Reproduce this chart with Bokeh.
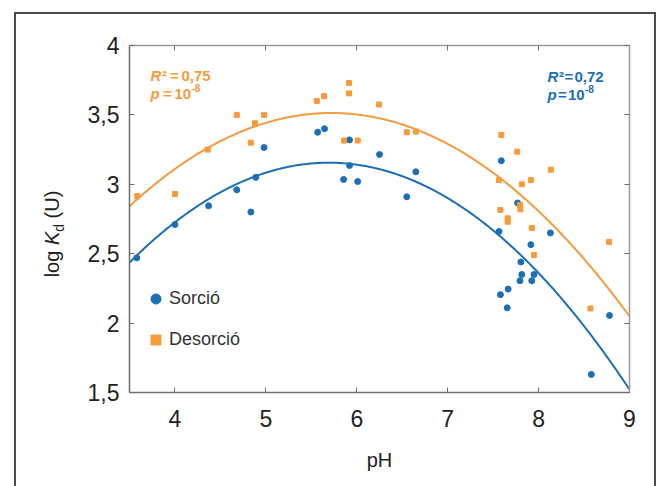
import numpy as np
from bokeh.plotting import figure
from bokeh.layouts import row
from bokeh.models import (Label, LinearAxis, FixedTicker, Legend, LegendItem,
                          Range1d, CustomJSTickFormatter, Div)
from bokeh.embed import file_html
from bokeh.resources import INLINE

# ---------------- data ----------------
ph_sorcio = [3.58, 4.00, 4.37, 4.68, 4.835, 4.89, 4.98, 5.57, 5.645, 5.92,
             6.25, 5.92, 5.855, 6.01, 6.65, 6.55, 7.59, 7.77, 7.565, 8.13,
             7.915, 7.805, 7.815, 7.95, 7.795, 7.925, 7.665, 7.58, 7.655,
             8.78, 8.58]
logkd_sorcio = [2.47, 2.71, 2.845, 2.96, 2.80, 3.05, 3.265, 3.375, 3.40, 3.32,
                3.215, 3.135, 3.035, 3.02, 3.09, 2.91, 3.17, 2.865, 2.66, 2.65,
                2.565, 2.44, 2.35, 2.35, 2.305, 2.305, 2.245, 2.205, 2.11,
                2.055, 1.63]
ph_desorcio = [3.585, 4.00, 4.36, 4.68, 4.88, 4.835, 4.98, 5.915, 5.915, 5.64,
               5.56, 6.245, 5.86, 6.01, 6.55, 6.65, 7.59, 7.765, 8.135, 7.565,
               7.815, 7.915, 7.58, 7.795, 7.80, 7.66, 7.66, 7.925, 7.95,
               8.775, 8.57]
logkd_desorcio = [2.915, 2.93, 3.25, 3.50, 3.44, 3.30, 3.50, 3.73, 3.655, 3.635,
                  3.60, 3.575, 3.315, 3.315, 3.375, 3.38, 3.355, 3.235, 3.105, 3.03,
                  3.00, 3.03, 2.815, 2.85, 2.82, 2.755, 2.73, 2.685, 2.49,
                  2.585, 2.105]

series_names = ["Sorció", "Desorció"]
x_ticks = [4, 5, 6, 7, 8, 9]
x_tick_labels = ["4", "5", "6", "7", "8", "9"]
y_ticks = [1.5, 2.0, 2.5, 3.0, 3.5, 4.0]
y_tick_labels = ["1,5", "2", "2,5", "3", "3,5", "4"]
r2_sorcio, p_sorcio = "0,72", "-8"
r2_desorcio, p_desorcio = "0,75", "-8"
x_title = "pH"
y_title_html = "log <i>K</i><sub style='font-size:14px'>d</sub> (U)"

# ---------------- style ----------------
BLUE = "#1b6fb6"
ORANGE = "#f69b3b"
FONT = "Liberation Sans"
X0, X1, Y0, Y1 = 3.5, 9.0, 1.5, 4.0
FW, FH = 500, 347
LEFT, TOP = 129, 45          # page position of the frame
DIV_W, H = 50, 472

def xd(px):
    return X0 + (px - LEFT) * (X1 - X0) / FW

def yd(py):
    return Y0 + (TOP + FH - py) * (Y1 - Y0) / FH

p = figure(frame_width=FW, frame_height=FH,
           x_range=Range1d(X0, X1), y_range=Range1d(Y0, Y1),
           output_backend="svg", toolbar_location=None,
           min_border_left=63, min_border_right=25,
           min_border_top=31, min_border_bottom=94, margin=0)
p.grid.visible = False
p.outline_line_color = "#9a9a9a"
p.outline_line_width = 1
p.background_fill_color = "white"
p.border_fill_color = "white"

p.add_layout(LinearAxis(), "above")
p.add_layout(LinearAxis(), "right")

empty = CustomJSTickFormatter(code="return ''")
for ax in p.axis:
    ax.axis_line_color = "#6e6e6e"
    ax.axis_line_width = 1.5
    ax.major_tick_in = 5
    ax.major_tick_out = 0
    ax.major_tick_line_color = "#6e6e6e"
    ax.major_tick_line_width = 1
    ax.minor_tick_line_color = None
    ax.major_label_text_font = FONT
    ax.major_label_text_font_size = "23px"
    ax.major_label_text_color = "#222222"

for ax in p.above + p.below:
    ax.ticker = FixedTicker(ticks=x_ticks)
for ax in p.left + p.right:
    ax.ticker = FixedTicker(ticks=y_ticks)
for ax in p.above + p.right:
    ax.formatter = empty
    ax.axis_line_color = "#9a9a9a"

xa = p.below[0]
xa.major_label_overrides = dict(zip(x_ticks, x_tick_labels))
xa.major_label_standoff = 17
xa.axis_label = x_title
xa.axis_label_text_font = FONT
xa.axis_label_text_font_size = "20px"
xa.axis_label_text_font_style = "normal"
xa.axis_label_text_color = "#222222"
xa.axis_label_standoff = 19

ya = p.left[0]
ya.major_label_overrides = dict(zip(y_ticks, y_tick_labels))
ya.major_label_standoff = 10

# ---------------- fitted curves (quadratic regression of the data) ----------------
xfit = np.linspace(X0, X1, 300)
c_s = np.polyfit(ph_sorcio, logkd_sorcio, 2)
c_d = np.polyfit(ph_desorcio, logkd_desorcio, 2)
p.line(xfit, np.polyval(c_d, xfit), line_color=ORANGE, line_width=2)
p.line(xfit, np.polyval(c_s, xfit), line_color=BLUE, line_width=2)

r_s = p.scatter(ph_sorcio, logkd_sorcio, marker="circle", size=6,
                fill_color=BLUE, line_color=BLUE)
r_d = p.scatter(ph_desorcio, logkd_desorcio, marker="square", size=5,
                fill_color=ORANGE, line_color=ORANGE)

legend = Legend(items=[LegendItem(label=series_names[0], renderers=[r_s]),
                       LegendItem(label=series_names[1], renderers=[r_d])],
                location=(14, 40), margin=0, padding=0, spacing=16,
                glyph_width=25, glyph_height=25, label_height=25,
                label_standoff=1, border_line_color=None,
                background_fill_alpha=0,
                label_text_font=FONT, label_text_font_size="18px",
                label_text_color="#333333", label_text_baseline="middle")
p.add_layout(legend)

# ---------------- statistics annotations ----------------
def lab(txt, px, py, color, size, style="bold"):
    p.add_layout(Label(x=xd(px), y=yd(py), text=txt, text_color=color,
                       text_font=FONT, text_font_size=size,
                       text_font_style=style, text_baseline="alphabetic"))

ann = "15px"
# Desorció (orange, top-left)
lab("R", 150, 75, ORANGE, ann, "bold italic")
lab("²", 161.5, 75, ORANGE, ann)
lab("=", 169.5, 75, ORANGE, ann)
lab(r2_desorcio, 181, 75, ORANGE, ann)
lab("p", 150, 93, ORANGE, ann, "bold italic")
lab("=", 162.5, 93, ORANGE, ann)
lab("10", 174, 93, ORANGE, ann)
lab(p_desorcio, 191, 87, ORANGE, "10px")
# Sorció (blue, top-right)
lab("R", 547, 76, BLUE, ann, "bold italic")
lab("²", 558.5, 76, BLUE, ann)
lab("=", 564, 76, BLUE, ann)
lab(r2_sorcio, 574, 76, BLUE, ann)
lab("p", 547, 94, BLUE, ann, "bold italic")
lab("=", 557.5, 94, BLUE, ann)
lab("10", 567.5, 94, BLUE, ann)
lab(p_sorcio, 584.5, 88, BLUE, "10px")

# ---------------- y-axis title (rotated HTML text) ----------------
ytitle = Div(width=DIV_W, height=H, margin=0, styles={"overflow": "visible"},
             text=("<div style=\"position:relative;width:%dpx;height:%dpx;overflow:visible;\">"
                   "<div style=\"position:absolute;left:40px;top:220px;"
                   "transform:translate(-50%%,-50%%) rotate(-90deg);white-space:nowrap;"
                   "font-family:'Liberation Sans';font-size:20px;line-height:23px;"
                   "color:#222222;\">%s</div></div>") % (DIV_W, H, y_title_html))

layout = row(ytitle, p, margin=(14, 0, 0, 16), spacing=0,
             styles={"outline": "2px solid #4a4a4a"})

open("out.html", "w").write(file_html(layout, INLINE))
